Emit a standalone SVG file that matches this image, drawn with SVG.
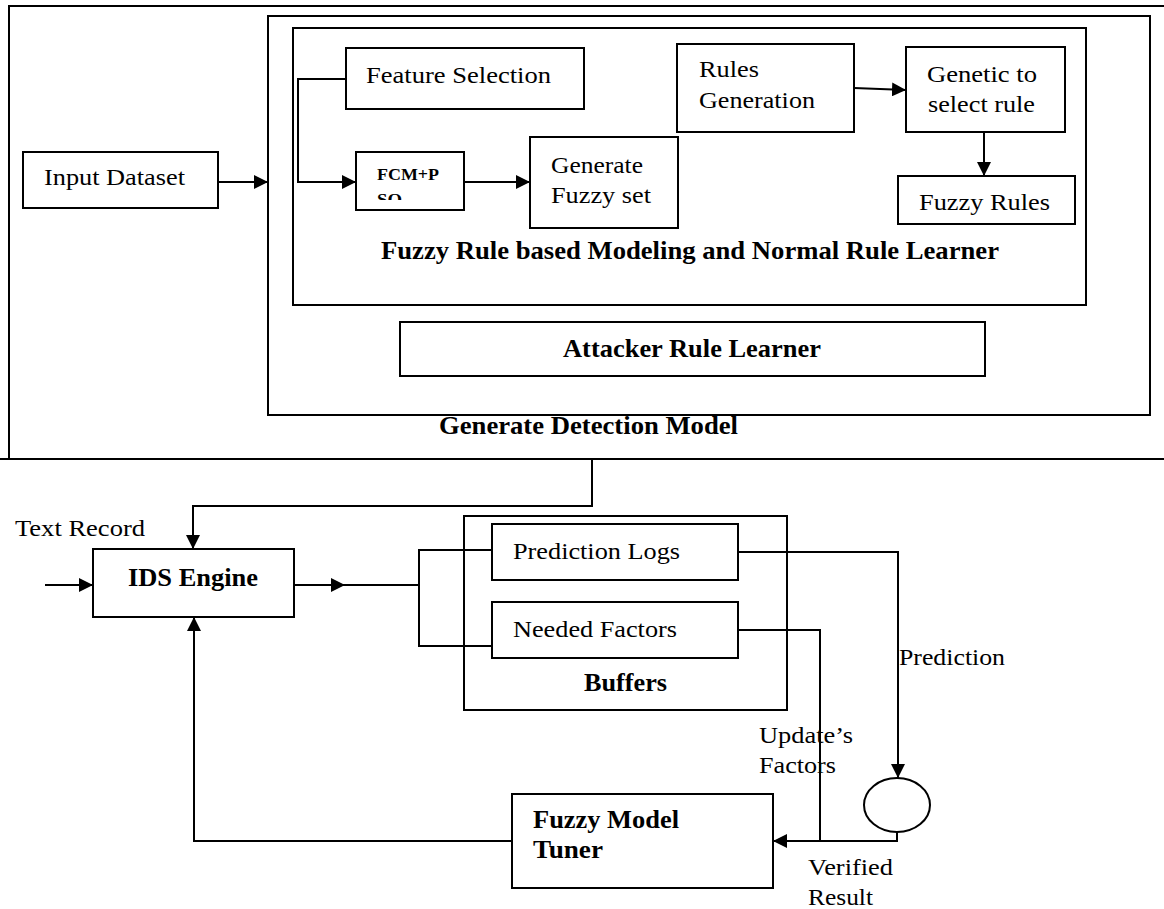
<svg xmlns="http://www.w3.org/2000/svg" width="1164" height="909" viewBox="0 0 1164 909">
<style>
.box{fill:none;stroke:#000;stroke-width:2}
.ln{fill:none;stroke:#000;stroke-width:2}
.t{font-family:"Liberation Serif","Times New Roman",serif;font-size:23px;fill:#000}
.b{font-weight:bold;font-size:24.5px}
</style>
<defs>
<marker id="ah" markerUnits="userSpaceOnUse" markerWidth="16" markerHeight="14" refX="14" refY="7" orient="auto">
<path d="M0,0 L14,7 L0,14 Z" fill="#000"/>
</marker>
<clipPath id="fcmclip"><rect x="356" y="150" width="108" height="50"/></clipPath>
</defs>
<rect width="1164" height="909" fill="#fff"/>

<g id="outer">
<path class="ln" d="M1164,6 H9 V459"/>
<path class="ln" d="M0,459 H1164"/>
</g>

<g id="detection-model">
<rect class="box" x="268" y="16" width="882" height="399"/>
<text class="t b" x="439" y="434" textLength="299" lengthAdjust="spacingAndGlyphs">Generate Detection Model</text>
</g>

<g id="fuzzy-rule-modeling">
<rect class="box" x="293" y="28" width="793" height="277"/>
<text class="t b" x="381" y="259" textLength="618" lengthAdjust="spacingAndGlyphs">Fuzzy Rule based Modeling and Normal Rule Learner</text>
</g>

<g id="input-dataset">
<rect class="box" x="23" y="152" width="195" height="56"/>
<text class="t" x="44" y="185" textLength="141" lengthAdjust="spacingAndGlyphs">Input Dataset</text>
</g>

<g id="feature-selection">
<rect class="box" x="346" y="48" width="238" height="61"/>
<text class="t" x="366" y="83" textLength="185" lengthAdjust="spacingAndGlyphs">Feature Selection</text>
</g>

<g id="fcm-pso">
<rect class="box" x="356" y="152" width="108" height="58"/>
<g clip-path="url(#fcmclip)">
<text class="t" style="font-size:16px;font-weight:bold" x="377" y="180" textLength="62" lengthAdjust="spacingAndGlyphs">FCM+P</text>
<text class="t" style="font-size:16px;font-weight:bold" x="377" y="205" textLength="25" lengthAdjust="spacingAndGlyphs">SO</text>
</g>
</g>

<g id="generate-fuzzy-set">
<rect class="box" x="530" y="137" width="148" height="91"/>
<text class="t" x="551" y="173" textLength="92" lengthAdjust="spacingAndGlyphs">Generate</text>
<text class="t" x="551" y="203" textLength="100" lengthAdjust="spacingAndGlyphs">Fuzzy set</text>
</g>

<g id="rules-generation">
<rect class="box" x="677" y="44" width="177" height="88"/>
<text class="t" x="699" y="77" textLength="60" lengthAdjust="spacingAndGlyphs">Rules</text>
<text class="t" x="699" y="108" textLength="116" lengthAdjust="spacingAndGlyphs">Generation</text>
</g>

<g id="genetic-select">
<rect class="box" x="906" y="47" width="159" height="85"/>
<text class="t" x="927" y="82" textLength="110" lengthAdjust="spacingAndGlyphs">Genetic to</text>
<text class="t" x="928" y="112" textLength="107" lengthAdjust="spacingAndGlyphs">select rule</text>
</g>

<g id="fuzzy-rules">
<rect class="box" x="898" y="176" width="177" height="48"/>
<text class="t" x="919" y="210" textLength="131" lengthAdjust="spacingAndGlyphs">Fuzzy Rules</text>
</g>

<g id="attacker-rule-learner">
<rect class="box" x="400" y="322" width="585" height="54"/>
<text class="t b" x="563" y="357" textLength="258" lengthAdjust="spacingAndGlyphs">Attacker Rule Learner</text>
</g>

<g id="text-record">
<text class="t" x="15" y="536" textLength="130" lengthAdjust="spacingAndGlyphs">Text Record</text>
</g>

<g id="ids-engine">
<rect class="box" x="93" y="549" width="201" height="68"/>
<text class="t b" x="128" y="586" textLength="130" lengthAdjust="spacingAndGlyphs">IDS Engine</text>
</g>

<g id="buffers">
<rect class="box" x="464" y="516" width="323" height="194"/>
<text class="t b" x="584" y="691" textLength="83" lengthAdjust="spacingAndGlyphs">Buffers</text>
</g>

<g id="prediction-logs">
<rect class="box" x="492" y="524" width="246" height="56"/>
<text class="t" x="513" y="559" textLength="167" lengthAdjust="spacingAndGlyphs">Prediction Logs</text>
</g>

<g id="needed-factors">
<rect class="box" x="492" y="602" width="246" height="56"/>
<text class="t" x="513" y="637" textLength="164" lengthAdjust="spacingAndGlyphs">Needed Factors</text>
</g>

<g id="verifier">
<ellipse class="box" cx="897" cy="805" rx="33" ry="27"/>
</g>

<g id="fuzzy-model-tuner">
<rect class="box" x="512" y="794" width="261" height="94"/>
<text class="t b" x="533" y="828" textLength="146" lengthAdjust="spacingAndGlyphs">Fuzzy Model</text>
<text class="t b" x="533" y="858" textLength="70" lengthAdjust="spacingAndGlyphs">Tuner</text>
</g>

<g id="connectors">
<path class="ln" d="M218,182 H268" marker-end="url(#ah)"/>
<path class="ln" d="M346,79 H298 V182 H356" marker-end="url(#ah)"/>
<path class="ln" d="M464,182 H530" marker-end="url(#ah)"/>
<path class="ln" d="M854,88 L906,90" marker-end="url(#ah)"/>
<path class="ln" d="M984,132 V176" marker-end="url(#ah)"/>
<path class="ln" d="M592,459 V506 H193 V549" marker-end="url(#ah)"/>
<path class="ln" d="M45,585 H93" marker-end="url(#ah)"/>
<path class="ln" d="M294,585 H345" marker-end="url(#ah)"/>
<path class="ln" d="M343,585 H419"/>
<path class="ln" d="M492,550 H419 V646 H492"/>
<path class="ln" d="M738,552 H898 V778" marker-end="url(#ah)"/>
<path class="ln" d="M738,630 H820 V841"/>
<path class="ln" d="M897,832 V841 H773" marker-end="url(#ah)"/>
<path class="ln" d="M512,841 H194 V617" marker-end="url(#ah)"/>
</g>

<g id="connector-labels">
<text class="t" x="899" y="665" textLength="106" lengthAdjust="spacingAndGlyphs">Prediction</text>
<text class="t" x="759" y="743" textLength="94" lengthAdjust="spacingAndGlyphs">Update’s</text>
<text class="t" x="759" y="773" textLength="77" lengthAdjust="spacingAndGlyphs">Factors</text>
<text class="t" x="808" y="875" textLength="85" lengthAdjust="spacingAndGlyphs">Verified</text>
<text class="t" x="808" y="905" textLength="65" lengthAdjust="spacingAndGlyphs">Result</text>
</g>
</svg>
